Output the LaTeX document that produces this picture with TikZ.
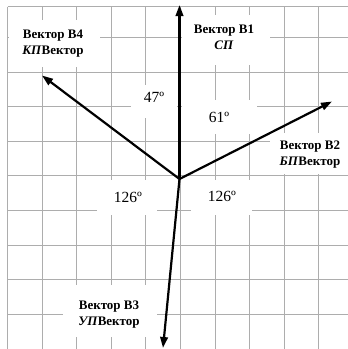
\documentclass[tikz,border=0pt]{standalone}
\usepackage{fontspec}
\setmainfont{Liberation Serif}
\usetikzlibrary{arrows.meta}
\begin{document}
\begin{tikzpicture}[x=1pt,y=-1pt,
  gridline/.style={draw=black!32, line width=0.9pt},
  mask/.style={fill=white, draw=none},
  vec/.style={line width=2.2pt, -{Triangle[length=11pt,width=7.5pt]}},
  lbl/.style={font=\bfseries\fontsize{13}{16}\selectfont, align=center, inner sep=0pt},
  ang/.style={font=\fontsize{15.5}{18}\selectfont, inner sep=0pt}]
\useasboundingbox (0,0) rectangle (348,349);
% grid
\foreach \i in {0,...,9} \draw[gridline] ({7.5+34.6*\i},6.5) -- ({7.5+34.6*\i},349);
\foreach \j in {0,...,8} \draw[gridline] (7.5,{37.5+34.6*\j}) -- (348,{37.5+34.6*\j});
\draw[gridline] (7.5,6.5) -- (348,6.5);
% white label backgrounds
\fill[mask] (9,20) rectangle (100,67);
\fill[mask] (182,15) rectangle (270,65);
\fill[mask] (270,133) rectangle (348,174);
\fill[mask] (131,85) rectangle (177,118);
\fill[mask] (182,100) rectangle (257,134);
\fill[mask] (97,180) rectangle (157,215);
\fill[mask] (191,180) rectangle (252,215);
\fill[mask] (63,285) rectangle (157,337);
% vectors
\coordinate (O) at (179.5,179);
\coordinate (t1) at (179.5,5);
\coordinate (t2) at (332,101.5);
\coordinate (t3) at (163,348);
\coordinate (t4) at (42,75.5);
\draw[vec] (O) -- (t1);
\draw[vec] (O) -- (t2);
\draw[vec] (O) -- (t3);
\draw[vec] (O) -- (t4);
% labels
\node[lbl] (b4) at (53,44) {Вектор B4\\\textit{КП}Вектор};
\node[lbl] (b1) at (224,37) {Вектор B1\\\textit{СП}};
\node[lbl] (b2) at (310,155) {Вектор B2\\\textit{БП}Вектор};
\node[lbl] (b3) at (109,315) {Вектор B3\\\textit{УП}Вектор};
\node[ang] (a47) at (154,97) {47º};
\node[ang] (a61) at (219,117) {61º};
\node[ang] (a126l) at (128,197) {126º};
\node[ang] (a126r) at (222,196) {126º};
\end{tikzpicture}
\end{document}
